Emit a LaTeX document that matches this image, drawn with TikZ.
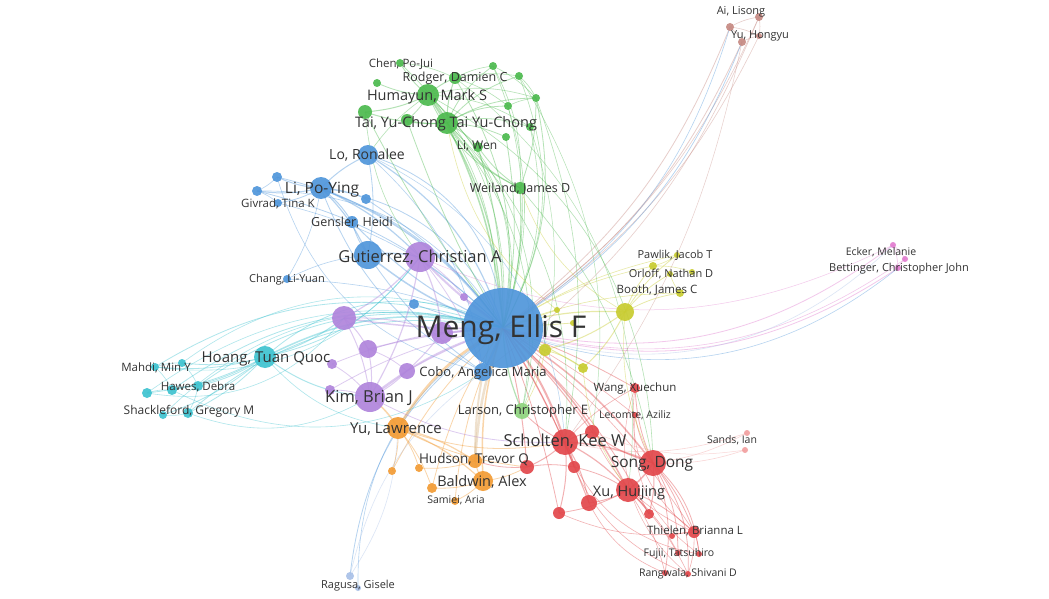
\documentclass[tikz,border=0pt]{standalone}
\usepackage{fontspec}
\setmainfont{Open Sans}
\pgfdeclarelayer{edges}
\pgfsetlayers{edges,main}
\definecolor{cblue}{HTML}{5096DB}
\definecolor{clblue}{HTML}{A9C1E8}
\definecolor{cgreen}{HTML}{4DBA4F}
\definecolor{clgreen}{HTML}{8FD47E}
\definecolor{cpurple}{HTML}{B085DC}
\definecolor{ccyan}{HTML}{3EC3D0}
\definecolor{corange}{HTML}{F39C35}
\definecolor{ctan}{HTML}{D9B98C}
\definecolor{cred}{HTML}{E2474B}
\definecolor{clred}{HTML}{F2A0A0}
\definecolor{cyellow}{HTML}{C8CC30}
\definecolor{cpink}{HTML}{E27DD0}
\definecolor{cbrown}{HTML}{C68A83}
\definecolor{labc}{HTML}{333333}
\newcommand\vnode[5]{\node[vn,fill=#5,minimum size=#4*2pt] (#1) at (#2,#3) {};}
\newcommand\vlab[5]{\node[lab,anchor=base,font=\fontsize{#4}{#4}\selectfont] (#1) at ({#2},{#3+0.36*#4}) {#5};}
\begin{document}
\begin{tikzpicture}[x=1pt,y=-1pt,
  vn/.style={circle,inner sep=0pt,draw=none,fill opacity=0.92},
  lab/.style={text=labc,inner sep=0pt},
  ed/.style={draw opacity=0.42}]
\useasboundingbox (0,0) rectangle (1049,599);
% ---------- nodes ----------
% blue
\vnode{m}{503}{328}{40}{cblue}
\vnode{gb}{368}{255}{14}{cblue}
\vnode{lpy}{321}{188}{11}{cblue}
\vnode{lo}{368}{155}{10}{cblue}
\vnode{gen}{352}{222}{6}{cblue}
\vnode{giv}{278}{203}{4}{cblue}
\vnode{b1}{277}{177}{5}{cblue}
\vnode{b2}{257}{191}{5}{cblue}
\vnode{b3}{366}{199}{5}{cblue}
\vnode{chg}{287}{279}{4}{cblue}
\vnode{cobo}{483}{372}{9}{cblue}
\vnode{b4}{414}{304}{5}{cblue}
\vnode{rg1}{350}{576}{4}{clblue}
\vnode{rg2}{358}{588}{3}{clblue}
% green
\vnode{hum}{428}{95}{11}{cgreen}
\vnode{tai}{447}{123}{11}{cgreen}
\vnode{chen}{400}{63}{4}{cgreen}
\vnode{rod}{455}{78}{6}{cgreen}
\vnode{g1}{377}{83}{4}{cgreen}
\vnode{g2}{493}{66}{4}{cgreen}
\vnode{g3}{519}{76}{4}{cgreen}
\vnode{g4}{536}{98}{4}{cgreen}
\vnode{g5}{508}{106}{4}{cgreen}
\vnode{g6}{365}{112}{7}{cgreen}
\vnode{g7}{407}{120}{6}{cgreen}
\vnode{g8}{530}{127}{4}{cgreen}
\vnode{g9}{506}{137}{4}{cgreen}
\vnode{liw}{478}{147}{5}{cgreen}
\vnode{wei}{520}{188}{6}{cgreen}
\vnode{lar}{522}{411}{8}{clgreen}
% purple
\vnode{gut}{420}{257}{15}{cpurple}
\vnode{p1}{344}{318}{12}{cpurple}
\vnode{p2}{368}{349}{9}{cpurple}
\vnode{p3}{442}{333}{11}{cpurple}
\vnode{p4}{464}{297}{4}{cpurple}
\vnode{p5}{332}{364}{5}{cpurple}
\vnode{p6}{407}{371}{8}{cpurple}
\vnode{kim}{370}{397}{15}{cpurple}
\vnode{p7}{330}{390}{5}{cpurple}
% cyan
\vnode{hoa}{265}{357}{11}{ccyan}
\vnode{c1}{155}{367}{4}{ccyan}
\vnode{c2}{182}{363}{4}{ccyan}
\vnode{c3}{172}{390}{5}{ccyan}
\vnode{c4}{147}{393}{5}{ccyan}
\vnode{c5}{198}{386}{5}{ccyan}
\vnode{c6}{188}{413}{5}{ccyan}
\vnode{c7}{163}{415}{4}{ccyan}
% orange
\vnode{yul}{398}{428}{11}{corange}
\vnode{hud}{475}{461}{7}{corange}
\vnode{bal}{483}{481}{10}{corange}
\vnode{sam}{455}{501}{4}{corange}
\vnode{o1}{392}{471}{4}{corange}
\vnode{o2}{419}{468}{4}{corange}
\vnode{o3}{432}{488}{5}{corange}
% red
\vnode{sch}{565}{442}{13}{cred}
\vnode{song}{653}{463}{13}{cred}
\vnode{xu}{628}{490}{12}{cred}
\vnode{r1}{592}{432}{7}{cred}
\vnode{r2}{527}{467}{7}{cred}
\vnode{r3}{574}{467}{6}{cred}
\vnode{r4}{589}{503}{8}{cred}
\vnode{r5}{559}{513}{6}{cred}
\vnode{r6}{649}{514}{5}{cred}
\vnode{thi}{694}{532}{6}{cred}
\vnode{r7}{672}{536}{3}{cred}
\vnode{fu1}{678}{553}{3}{cred}
\vnode{fu2}{699}{554}{3}{cred}
\vnode{ra1}{665}{573}{3}{cred}
\vnode{ra2}{688}{574}{3}{cred}
\vnode{san1}{747}{433}{3}{clred}
\vnode{san2}{745}{450}{3}{clred}
\vnode{wan}{635}{388}{5}{cred}
\vnode{lec}{635}{415}{3}{cred}
% yellow
\vnode{y1}{625}{312}{9}{cyellow}
\vnode{y2}{545}{350}{6}{cyellow}
\vnode{y3}{583}{368}{5}{cyellow}
\vnode{y4}{557}{310}{3}{cyellow}
\vnode{y5}{573}{323}{3}{cyellow}
\vnode{paw}{677}{255}{3}{cyellow}
\vnode{or1}{653}{266}{4}{cyellow}
\vnode{or2}{670}{274}{3}{cyellow}
\vnode{or3}{692}{272}{3}{cyellow}
\vnode{boo}{680}{293}{4}{cyellow}
% pink
\vnode{eck}{893}{245}{3}{cpink}
\vnode{bet1}{898}{268}{3}{cpink}
\vnode{bet2}{905}{259}{3}{cpink}
% brown
\vnode{ai1}{730}{27}{4}{cbrown}
\vnode{ai2}{759}{17}{4}{cbrown}
\vnode{ai3}{742}{42}{4}{cbrown}
\vnode{ai4}{759}{36}{3}{cbrown}
% ---------- edges ----------
\begin{pgfonlayer}{edges}
\fill[white] (0,0) rectangle (1049,599);
\foreach \t/\c/\b/\w in {
 gb/cblue/10/1.5, lpy/cblue/-15/1.5, lo/cblue/-20/1.2, gen/cblue/10/1, cobo/cblue/5/1.5,
 b4/cblue/5/0.8, b1/cblue/-20/0.8, b2/cblue/-15/0.8, b3/cblue/-10/0.8, chg/cblue/-10/0.6,
 rg1/cblue/-25/0.8, rg2/cblue/-30/0.6, giv/cblue/-15/0.6, lpy/cblue/-30/0.8, lo/cblue/-35/0.8,
 gut/cpurple/5/2.0, p1/cpurple/5/1.5, p2/cpurple/-5/1.2, p3/cpurple/0/1.5, p4/cpurple/0/0.8,
 p5/cpurple/-10/0.8, p6/cpurple/-5/1.0, kim/cpurple/-10/1.5, p7/cpurple/-10/0.8,
 hum/cgreen/-15/1.2, tai/cgreen/-10/1.5, wei/cgreen/-10/1.2, liw/cgreen/-8/1, lar/cgreen/-10/1.2,
 rod/cgreen/-20/0.8, g6/cgreen/5/0.8, g7/cgreen/5/0.8, g9/cgreen/-10/0.8, g4/cgreen/-20/0.8, g2/cgreen/-20/0.6,
 g3/cgreen/-25/0.6, g8/cgreen/-20/0.6, g5/cgreen/-15/0.6, hum/cgreen/-30/0.6, tai/cgreen/-30/0.6, chen/cgreen/-25/0.6,
 hoa/ccyan/-20/1.5, c1/ccyan/-25/0.8, c3/ccyan/-25/0.8, c5/ccyan/-25/0.8, c6/ccyan/-25/0.8, c4/ccyan/-25/0.6,
 c2/ccyan/-30/0.6, c7/ccyan/-30/0.6, hoa/ccyan/-35/0.8,
 yul/corange/-15/2.5, hud/ctan/-8/2.5, bal/corange/-10/1.5, sam/corange/-10/0.8, o1/corange/-10/0.8, o3/corange/-10/0.8,
 sch/cred/10/2.0, song/cred/10/1.5, xu/cred/10/1.5, r1/cred/5/1, r2/cred/5/1, r3/cred/5/1, r4/cred/5/1,
 r5/cred/5/0.8, wan/cred/5/0.8, lec/cred/5/0.6, thi/cred/10/0.6, r6/cred/10/0.8,
 y1/cyellow/10/1.2, y2/cyellow/5/1, y3/cyellow/5/1, y4/cyellow/0/0.8, y5/cyellow/0/0.8,
 paw/cyellow/10/0.6, or1/cyellow/10/0.6, boo/cyellow/10/0.6,
 eck/cpink/-25/0.8, bet1/cpink/-25/0.8, bet2/cpink/-25/0.6, bet1/cblue/-30/0.6, eck/clblue/-32/0.6,
 ai1/cbrown/-15/0.8, ai3/cbrown/-15/0.8, ai4/cbrown/-15/0.6, ai2/cbrown/-15/0.6, ai3/cblue/-18/0.7, ai1/cblue/-20/0.6}
 {\draw[ed,draw=\c,line width=\w pt] (m.center) to[bend left=\b] (\t.center);}
\foreach \a/\t/\c/\b/\w in {
 hum/tai/cgreen/10/1.5, hum/rod/cgreen/10/1, hum/chen/cgreen/10/0.8, hum/g1/cgreen/10/0.8, hum/g6/cgreen/10/1,
 hum/g7/cgreen/10/0.8, tai/g6/cgreen/10/1, tai/g7/cgreen/10/1, tai/liw/cgreen/10/1, tai/rod/cgreen/10/1,
 tai/g2/cgreen/15/0.8, tai/g3/cgreen/15/0.8, tai/g4/cgreen/15/0.8, tai/g5/cgreen/15/0.8, tai/g8/cgreen/15/0.8,
 tai/g9/cgreen/10/0.8, rod/g2/cgreen/10/0.6, rod/g3/cgreen/10/0.6, g3/g4/cgreen/10/0.6, g5/g4/cgreen/10/0.6,
 hum/g4/cgreen/15/0.6, hum/g8/cgreen/15/0.6, rod/g5/cgreen/10/0.6, g2/g4/cgreen/10/0.6, chen/rod/cgreen/10/0.6,
 hum/wei/cgreen/-20/0.8, tai/wei/cgreen/-15/1, liw/wei/cgreen/-10/0.8, g4/wei/cgreen/10/0.8, hum/lo/cgreen/-10/0.6,
 g6/gut/cgreen/-15/0.6, g2/wei/cgreen/15/0.6, hum/lar/cgreen/30/0.6, tai/lar/cgreen/25/0.6,
 tai/sch/cgreen/25/0.6, hum/song/cgreen/30/0.6, rod/xu/cgreen/30/0.5, g4/sch/cgreen/15/0.6, wei/song/cgreen/15/0.6,
 g3/r1/cgreen/20/0.5, g8/lar/cgreen/20/0.5, hum/cobo/cgreen/25/0.6,
 lpy/b1/cblue/10/1, lpy/b2/cblue/10/1, lpy/giv/cblue/10/0.8, lpy/b3/cblue/10/0.8, lpy/gen/cblue/10/1,
 lpy/lo/cblue/10/1, lpy/gb/cblue/10/1.2, gb/gen/cblue/10/0.8, gb/gut/cblue/10/1.2, lpy/gut/cblue/10/1.2,
 b2/giv/cblue/10/0.6, b1/b2/cblue/10/0.6, chg/gb/cblue/10/0.6, chg/lpy/cblue/-10/0.6, lo/gb/cblue/10/0.8,
 lpy/cobo/cblue/-20/0.8, gb/cobo/cblue/-10/0.8, lo/cobo/cblue/20/0.6, yul/rg1/clblue/15/0.6, cobo/rg1/clblue/-20/0.6,
 b2/m/cblue/30/0.6, b1/cobo/cblue/-30/0.6, lo/sch/cblue/30/0.5,
 gut/p1/cpurple/10/1.2, gut/p3/cpurple/10/1.2, gut/kim/cpurple/10/1.2, p1/p2/cpurple/10/1, p1/kim/cpurple/10/1,
 p2/kim/cpurple/10/1, p2/p6/cpurple/10/0.8, p6/kim/cpurple/10/1, p5/kim/cpurple/10/0.8, p7/kim/cpurple/10/0.8,
 p3/kim/cpurple/10/1, p1/p3/cpurple/10/1, gut/p4/cpurple/10/0.8, kim/sch/cpurple/-15/0.8, gut/cobo/cpurple/10/0.8,
 hoa/c1/ccyan/10/0.8, hoa/c2/ccyan/10/0.8, hoa/c3/ccyan/10/0.8, hoa/c4/ccyan/10/0.8, hoa/c5/ccyan/10/0.8,
 hoa/c6/ccyan/10/0.8, hoa/c7/ccyan/10/0.8, c1/c2/ccyan/10/0.6, c1/c3/ccyan/10/0.6, c3/c5/ccyan/10/0.6,
 c4/c3/ccyan/10/0.6, c6/c7/ccyan/10/0.6, c5/c6/ccyan/10/0.6, c2/c5/ccyan/10/0.6, hoa/kim/ccyan/-15/1,
 hoa/p1/ccyan/-10/1, hoa/gut/ccyan/-20/0.8, c1/gut/ccyan/-30/0.6, c4/p1/ccyan/-30/0.6, c6/kim/ccyan/-25/0.6,
 hoa/yul/ccyan/-20/0.6, c3/cobo/ccyan/-30/0.6,
 yul/hud/corange/10/1.2, yul/bal/corange/10/1.2, yul/o1/corange/10/0.8, yul/o2/corange/10/0.8, yul/o3/corange/10/0.8,
 bal/hud/corange/10/1, bal/sam/corange/10/0.8, bal/o3/corange/10/0.8, hud/o2/corange/10/0.8, kim/yul/corange/10/1.5,
 yul/r2/corange/-10/0.8, bal/r2/corange/-10/0.8, cobo/hud/ctan/-5/2.0, yul/sch/corange/-15/0.8,
 sch/song/cred/10/1.5, sch/xu/cred/10/1.2, song/xu/cred/10/1.5, sch/r1/cred/10/1, sch/r2/cred/10/1,
 sch/r3/cred/10/1, sch/r4/cred/10/1, sch/r5/cred/10/1, song/r1/cred/10/1, song/r6/cred/10/1,
 song/thi/cred/10/0.8, song/fu1/cred/15/0.8, song/fu2/cred/20/0.8, song/ra1/cred/15/0.8, song/ra2/cred/20/0.8,
 xu/thi/cred/10/0.8, xu/r4/cred/10/1, xu/r6/cred/10/1, xu/ra1/cred/10/0.6, xu/ra2/cred/10/0.6,
 xu/fu1/cred/10/0.6, thi/fu2/cred/10/0.6, thi/ra2/cred/10/0.6, r7/thi/cred/10/0.6, song/san1/clred/-10/0.6,
 song/san2/clred/-10/0.6, sch/san1/clred/-15/0.6, song/wan/cred/10/0.8, song/lec/cred/10/0.8, xu/r5/cred/10/0.8,
 r3/xu/cred/10/0.8, r2/r3/cred/10/0.8, r2/hud/cred/10/0.8, sch/wan/cred/10/0.6, r5/thi/cred/-15/0.6,
 r4/ra1/cred/-20/0.6, sch/ra2/cred/-25/0.6, sch/fu2/cred/-30/0.6, r1/thi/cred/-20/0.6, sch/lar/cred/10/0.8,
 wan/thi/cred/-30/0.6, wan/ra2/cred/-35/0.5, lec/fu2/cred/-30/0.5, r1/san2/clred/-15/0.5,
 y1/y2/cyellow/10/1, y1/y3/cyellow/10/1, y1/paw/cyellow/10/0.8, y1/or1/cyellow/10/0.8, y1/or2/cyellow/10/0.8,
 y1/boo/cyellow/10/0.8, y2/y3/cyellow/10/0.8, or1/or3/cyellow/10/0.6, paw/or1/cyellow/10/0.6, boo/or2/cyellow/10/0.6,
 y1/song/cyellow/-15/0.6, y3/xu/cyellow/-15/0.6, y2/lar/cyellow/10/0.6, y1/wei/cyellow/20/0.6, y4/tai/cyellow/20/0.6,
 eck/bet1/cpink/10/0.6, eck/bet2/cpink/10/0.6, bet1/bet2/cpink/10/0.6, gut/eck/cpink/-25/0.5,
 ai1/ai2/cbrown/10/0.6, ai1/ai3/cbrown/10/0.6, ai2/ai4/cbrown/10/0.6, ai3/ai4/cbrown/10/0.6, ai1/ai4/cbrown/10/0.6,
 cobo/ai2/cbrown/-15/0.6, sch/ai3/cbrown/-12/0.5}
 {\draw[ed,draw=\c,line width=\w pt] (\a.center) to[bend left=\b] (\t.center);}
\end{pgfonlayer}
% ---------- labels ----------
\vlab{lm}{501}{327}{30}{Meng, Ellis F}
\vlab{lgut}{420}{257}{16.5}{Gutierrez, Christian A}
\vlab{llpy}{322}{188}{15.5}{Li, Po-Ying}
\vlab{llo}{367}{154}{14}{Lo, Ronalee}
\vlab{lgen}{352}{222}{12.5}{Gensler, Heidi}
\vlab{lgiv}{278}{203}{11.5}{Givrad, Tina K}
\vlab{lchg}{287}{279}{11}{Chang, Li-Yuan}
\vlab{lcobo}{483}{372}{13}{Cobo, Angelica Maria}
\vlab{lrg}{358}{585}{11}{Ragusa, Gisele}
\vlab{lhum}{427}{95}{14.5}{Humayun, Mark S}
\vlab{ltai}{446}{122}{14.5}{Tai, Yu-Chong Tai Yu-Chong}
\vlab{lchen}{401}{63}{11.5}{Chen, Po-Jui}
\vlab{lrod}{455}{77}{12.5}{Rodger, Damien C}
\vlab{lliw}{477}{145}{12}{Li, Wen}
\vlab{lwei}{520}{188}{12.5}{Weiland, James D}
\vlab{llar}{523}{410}{13}{Larson, Christopher E}
\vlab{lhoa}{266}{357}{15}{Hoang, Tuan Quoc}
\vlab{lmah}{156}{367}{11.5}{Mahdi, Min Y}
\vlab{lhaw}{198}{386}{11.5}{Hawes, Debra}
\vlab{lsha}{189}{410}{12}{Shackleford, Gregory M}
\vlab{lkim}{369}{397}{16.5}{Kim, Brian J}
\vlab{lyul}{396}{428}{15}{Yu, Lawrence}
\vlab{lhud}{474}{459}{13.5}{Hudson, Trevor Q}
\vlab{lbal}{482}{481}{14.5}{Baldwin, Alex}
\vlab{lsam}{456}{500}{10.5}{Samiei, Aria}
\vlab{lsch}{565}{441}{16.5}{Scholten, Kee W}
\vlab{lsong}{652}{462}{15.5}{Song, Dong}
\vlab{lxu}{629}{491}{14.5}{Xu, Huijing}
\vlab{lthi}{695}{530}{11.5}{Thielen, Brianna L}
\vlab{lfu}{679}{553}{10.5}{Fujii, Tatsuhiro}
\vlab{lra}{688}{573}{10.5}{Rangwala, Shivani D}
\vlab{lsan}{732}{440}{10.5}{Sands, Ian}
\vlab{lwan}{635}{387}{11.5}{Wang, Xuechun}
\vlab{llec}{635}{415}{10.5}{Lecomte, Aziliz}
\vlab{lpaw}{675}{255}{11}{Pawlik, Jacob T}
\vlab{lorl}{671}{274}{11}{Orloff, Nathan D}
\vlab{lboo}{657}{289}{11.5}{Booth, James C}
\vlab{leck}{881}{252}{10.5}{Ecker, Melanie}
\vlab{lbet}{899}{268}{11}{Bettinger, Christopher John}
\vlab{lai}{741}{11}{11}{Ai, Lisong}
\vlab{lyuh}{760}{35}{11}{Yu, Hongyu}
\end{tikzpicture}
\end{document}
